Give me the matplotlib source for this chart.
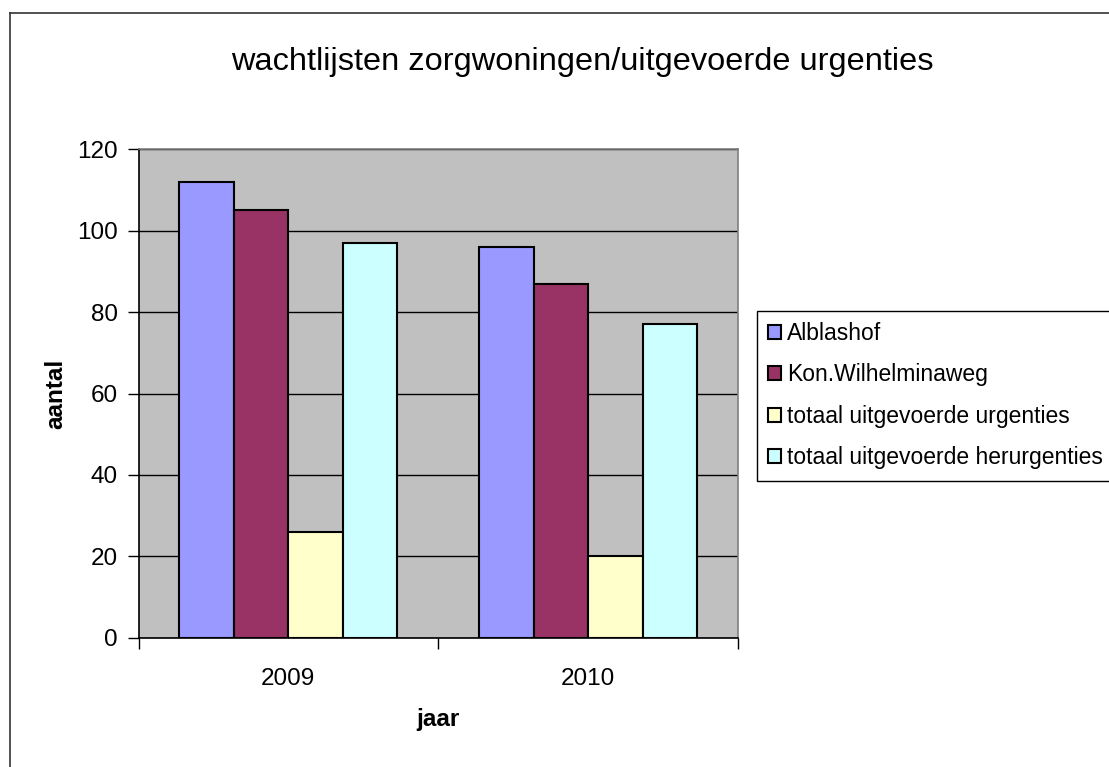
import matplotlib
matplotlib.use("Agg")
import matplotlib.pyplot as plt
from matplotlib.lines import Line2D
import numpy as np

plt.rcParams['font.family'] = ['Liberation Sans', 'DejaVu Sans']

years = ["2009", "2010"]
series_names = ["Alblashof", "Kon.Wilhelminaweg",
                "totaal uitgevoerde urgenties", "totaal uitgevoerde herurgenties"]
alblashof = [112, 96]
kon_wilhelminaweg = [105, 87]
urgenties = [26, 20]
herurgenties = [97, 77]
colors = ["#9999FF", "#993366", "#FFFFCC", "#CCFFFF"]
yticks = [0, 20, 40, 60, 80, 100, 120]

W, H = 1109, 767
fig = plt.figure(figsize=(W / 100, H / 100), dpi=100)
fig.patch.set_facecolor("white")

# axes placement in pixels
left, right, top, bottom = 138.5, 738, 149.3, 637.7
ax = fig.add_axes([left / W, 1 - bottom / H, (right - left) / W, (bottom - top) / H])
ax.set_facecolor("#C0C0C0")

data = [alblashof, kon_wilhelminaweg, urgenties, herurgenties]
centers = np.arange(len(years)) + 0.5
bw = 0.182
for i, (vals, col, name) in enumerate(zip(data, colors, series_names)):
    ax.bar(centers + (i - 1.5) * bw, vals, width=bw, color=col,
           edgecolor="black", linewidth=1.5, label=name, zorder=3)

ax.set_xlim(0, len(years))
ax.set_ylim(0, 120)
ax.set_yticks(yticks)
ax.set_yticklabels([str(v) for v in yticks], fontsize=17.5)
ax.yaxis.grid(True, color="black", linewidth=1.0, zorder=1)
ax.set_axisbelow(True)

ax.set_xticks(np.arange(len(years) + 1))
ax.set_xticklabels([])
ax.set_xticks(centers, minor=True)
ax.set_xticklabels(years, minor=True, fontsize=17.5)
ax.tick_params(axis="x", which="minor", length=0, pad=22)
ax.tick_params(axis="x", which="major", length=8, width=1, direction="out")
ax.tick_params(axis="y", length=8, width=1, direction="out", pad=7)

for s in ["top", "right"]:
    ax.spines[s].set_color("#808080")
    ax.spines[s].set_linewidth(1.2)
for s in ["left", "bottom"]:
    ax.spines[s].set_color("black")
    ax.spines[s].set_linewidth(1.2)

ax.set_ylabel("aantal", fontsize=17.5, fontweight="bold", labelpad=7)
ax.set_xlabel("jaar", fontsize=17.5, fontweight="bold", labelpad=13)

fig.text(582.5 / W, 1 - 62 / H, "wachtlijsten zorgwoningen/uitgevoerde urgenties",
         ha="center", va="center", fontsize=23.4)

leg = ax.legend(loc="upper left", bbox_to_anchor=(757 / W, 1 - 310.7 / H),
                bbox_transform=fig.transFigure, fontsize=16.5, frameon=True,
                fancybox=False, edgecolor="black", framealpha=1,
                handlelength=0.55, handleheight=0.55, handletextpad=0.25,
                labelspacing=0.8, borderpad=0.5, borderaxespad=0)
leg.get_frame().set_linewidth(1.0)

# chart border (top and left visible)
fig.add_artist(Line2D([10 / W, 1.0], [1 - 12.7 / H, 1 - 12.7 / H],
                      transform=fig.transFigure, color="#333333", linewidth=1.2))
fig.add_artist(Line2D([10 / W, 10 / W], [0, 1 - 12.7 / H],
                      transform=fig.transFigure, color="#333333", linewidth=1.2))

fig.savefig("out.png", dpi=100)
